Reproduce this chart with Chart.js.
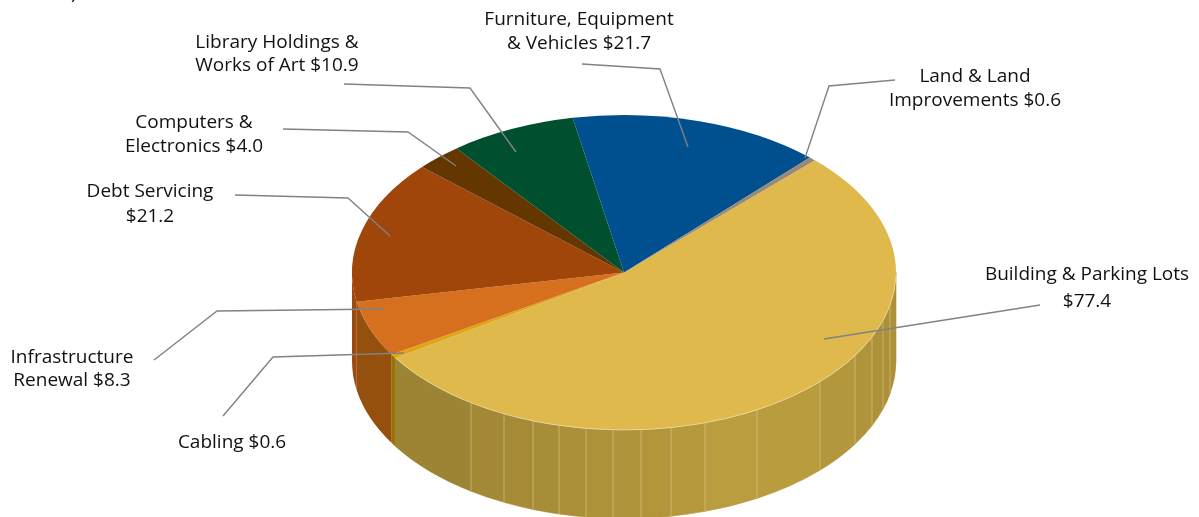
<!DOCTYPE html>
<html>
<head>
<meta charset="utf-8">
<title>Capital spending</title>
<script src="https://cdn.jsdelivr.net/npm/chart.js@4/dist/chart.umd.min.js"></script>
<style>
  html, body { margin: 0; padding: 0; background: #fff; overflow: hidden; }
  canvas { display: block; }
</style>
</head>
<body>
<canvas id="pie" width="1199" height="517"></canvas>
<script>
// Slices run clockwise, starting at the top right
const categories = [
  ['Building & Parking Lots', ''],
  ['Cabling'],
  ['Infrastructure', 'Renewal'],
  ['Debt Servicing', ''],
  ['Computers &', 'Electronics'],
  ['Library Holdings &', 'Works of Art'],
  ['Furniture, Equipment', '& Vehicles'],
  ['Land & Land', 'Improvements']
];
const values = [77.4, 0.6, 8.3, 21.2, 4.0, 10.9, 21.7, 0.6];

const topColors = ['#dfb94b', '#dfa512', '#d6701e', '#a0460a', '#643600', '#005030', '#004f8e', '#97887a'];
const wallColors = ['#ab9139', '#9a7200', '#94500c', '#9c4a0e', '#4f2b00', '#003f26', '#003f70', '#776b60'];

// Where the label text and the leader lines sit
const labelSpots = [[1087, 274.5], [232, 443], [72, 357.5], [150, 191.5], [194, 122.5], [277, 42.5], [579, 20], [975, 76.5]];
const labelGaps = [27, 0, 23.5, 25, 24, 23.5, 24, 24];
const leaders = [
  [[1040, 305], [824, 339]],
  [[223, 416], [273, 357], [404, 353]],
  [[154, 360], [217, 311], [384, 309]],
  [[235, 195], [348, 198], [390, 236]],
  [[283, 129], [408, 132], [456, 166]],
  [[344, 84], [470, 88], [516, 152]],
  [[582, 64], [660, 69], [688, 147]],
  [[895, 80], [829, 86], [805, 158]]
];

// Seams on the big slice's wall, as x positions along the rim
const seamXs = [471, 504, 533, 559, 586, 613, 641, 671, 705, 757, 820, 855, 872, 883, 890];

const SQUASH = 157.5 / 272;
const DEPTH = 88.5;
const FONT = '19px "Open Sans"';

function mix(a, b, t) {
  return 'rgb(' + a.map((v, i) => Math.round(v + (b[i] - v) * t)).join(',') + ')';
}

// Big slice wall goes from dark on the left to bright, then dims a little at the far right
function buildingShade(x) {
  const dark = [154, 129, 51], bright = [189, 159, 64], dim = [172, 145, 57];
  if (x < 760) return mix(dark, bright, Math.max(0, x - 396) / 364);
  return mix(bright, dim, Math.min(1, (x - 760) / 130));
}

function wallPath(ctx, arc, from, to) {
  const r = arc.outerRadius, ry = r * SQUASH;
  ctx.beginPath();
  ctx.ellipse(arc.x, arc.y, r, ry, 0, from, to);
  ctx.ellipse(arc.x, arc.y + DEPTH, r, ry, 0, to, from, true);
  ctx.closePath();
}

const pieWalls = {
  id: 'pieWalls',
  beforeDatasetsDraw(chart) {
    const ctx = chart.ctx;
    const arcs = chart.getDatasetMeta(0).data;
    ctx.save();
    arcs.forEach((arc, i) => {
      // only the front half of the cylinder shows
      const ranges = [[arc.startAngle, arc.endAngle], [arc.startAngle - Math.PI * 2, arc.endAngle - Math.PI * 2]];
      ranges.forEach(([s, e]) => {
        const from = Math.max(s, 0), to = Math.min(e, Math.PI);
        if (to <= from) return;
        if (i === 0) {
          const toAngle = x => Math.acos((x - arc.x) / arc.outerRadius);
          const edges = [to].concat(seamXs.map(toAngle).filter(a => a < to && a > from), [from]);
          for (let k = 0; k < edges.length - 1; k++) {
            const a0 = edges[k + 1], a1 = edges[k];
            const midX = arc.x + Math.cos((a0 + a1) / 2) * arc.outerRadius;
            wallPath(ctx, arc, a0, a1);
            ctx.fillStyle = buildingShade(midX);
            ctx.fill();
            ctx.strokeStyle = ctx.fillStyle;
            ctx.lineWidth = 0.6;
            ctx.stroke();
          }
          ctx.strokeStyle = 'rgba(238,224,170,0.45)';
          ctx.lineWidth = 1;
          edges.slice(1, -1).forEach(a => {
            const x = arc.x + Math.cos(a) * arc.outerRadius;
            const y = arc.y + Math.sin(a) * arc.outerRadius * SQUASH;
            ctx.beginPath();
            ctx.moveTo(x, y);
            ctx.lineTo(x, y + DEPTH);
            ctx.stroke();
          });
        } else {
          wallPath(ctx, arc, from, to);
          ctx.fillStyle = wallColors[i];
          ctx.fill();
        }
      });
    });
    ctx.restore();

    // the pie itself is drawn flattened into an ellipse
    const c = arcs[0];
    ctx.save();
    ctx.translate(c.x, c.y);
    ctx.scale(1, SQUASH);
    ctx.translate(-c.x, -c.y);
  },
  afterDatasetsDraw(chart) {
    chart.ctx.restore();
    const ctx = chart.ctx;
    const c = chart.getDatasetMeta(0).data[0];
    // pale rim along the front edge
    ctx.save();
    ctx.strokeStyle = 'rgba(245,232,190,0.6)';
    ctx.lineWidth = 1;
    ctx.beginPath();
    ctx.ellipse(c.x, c.y, c.outerRadius, c.outerRadius * SQUASH, 0, 0.02, Math.min(c.endAngle, Math.PI));
    ctx.stroke();
    ctx.restore();
  }
};

const pieLabels = {
  id: 'pieLabels',
  afterDraw(chart) {
    const ctx = chart.ctx;
    ctx.save();
    ctx.strokeStyle = '#808285';
    ctx.lineWidth = 1.4;
    leaders.forEach(points => {
      ctx.beginPath();
      points.forEach(([x, y], i) => (i ? ctx.lineTo(x, y) : ctx.moveTo(x, y)));
      ctx.stroke();
    });

    ctx.fillStyle = '#111';
    ctx.font = FONT;
    ctx.textAlign = 'center';
    ctx.textBaseline = 'middle';
    categories.forEach((lines, i) => {
      const money = '$' + values[i].toFixed(1);
      lines.forEach((line, k) => {
        let text = line;
        if (k === lines.length - 1) text = line ? line + ' ' + money : money;
        ctx.fillText(text, labelSpots[i][0], labelSpots[i][1] + k * labelGaps[i]);
      });
    });

    // closing bracket of the line above, cut off by the page edge
    ctx.textAlign = 'left';
    ctx.textBaseline = 'alphabetic';
    ctx.fillText(')', 71, -1);
    ctx.restore();
  }
};

new Chart(document.getElementById('pie'), {
  type: 'pie',
  data: {
    labels: categories.map(c => c.join(' ').trim()),
    datasets: [{
      data: values,
      backgroundColor: topColors,
      borderWidth: 0,
      clip: false
    }]
  },
  options: {
    responsive: false,
    animation: false,
    rotation: 44.6,
    radius: 272,
    // padding puts the centre of the drawing area at 624, 272.5
    layout: { padding: { left: 49, right: 0, top: 28, bottom: 0 } },
    plugins: { legend: { display: false }, tooltip: { enabled: false } }
  },
  plugins: [pieWalls, pieLabels]
});
</script>
</body>
</html>
